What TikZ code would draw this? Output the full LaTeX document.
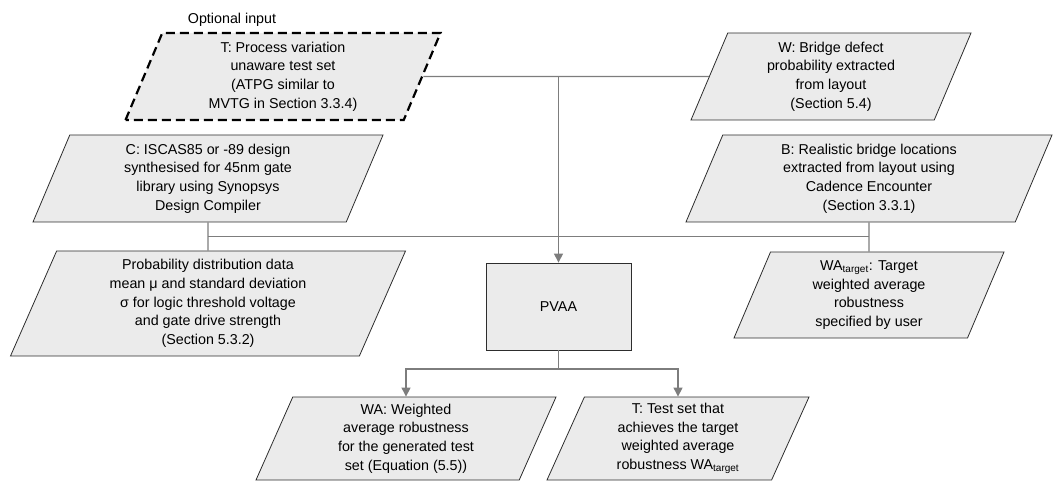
\documentclass[tikz,border=0pt]{standalone}
\usepackage{fontspec}
\setmainfont{Liberation Sans}
\usepackage{tikz}
\usetikzlibrary{arrows.meta,positioning,shapes.geometric}

\definecolor{boxfill}{RGB}{235,235,235}
\definecolor{linegray}{RGB}{125,125,125}
\definecolor{edgegray}{RGB}{45,45,45}

\tikzset{
  io/.style={trapezium, trapezium left angle=63.4, trapezium right angle=116.6,
    trapezium stretches body, draw=edgegray, fill=boxfill, line width=0.8pt,
    align=center, inner sep=2pt, minimum height=87pt},
  proc/.style={rectangle, draw=edgegray, fill=boxfill, line width=0.8pt,
    minimum width=145pt, minimum height=87pt},
  link/.style={draw=linegray, line width=1.2pt},
  arr/.style={link, -{Triangle[width=9pt,length=9pt]}}
}

\begin{document}
\begin{tikzpicture}[x=1pt, y=-1pt, font=\fontsize{14.3}{18.7}\selectfont]
\useasboundingbox (0,0) rectangle (1053,481);

% inputs
\node (opt) at (232,20) {Optional input};
\node[io, draw=black, line width=2.2pt, dash pattern=on 9pt off 5pt, minimum width=315pt] (Tin) at (283,76.5)
  {T: Process variation\\unaware test set\\(ATPG similar to\\MVTG in Section 3.3.4)};
\node[io, minimum width=280pt] (W) at (831,76.5)
  {W: Bridge defect\\probability extracted\\from layout\\(Section 5.4)};
\node[io, minimum width=350pt] (C) at (208,178.5)
  {C: ISCAS85 or -89 design\\synthesised for 45nm gate\\library using Synopsys\\Design Compiler};
\node[io, minimum width=366pt] (B) at (869,178.5)
  {B: Realistic bridge locations\\extracted from layout using\\Cadence Encounter\\(Section 3.3.1)};
\node[io, minimum height=105pt, minimum width=395pt] (P) at (208,303.5)
  {Probability distribution data\\mean μ and standard deviation\\σ for logic threshold voltage\\and gate drive strength\\(Section 5.3.2)};
\node[io, minimum height=86pt, minimum width=270pt] (WAt) at (869,295)
  {WA\textsubscript{target}: Target\\weighted average\\robustness\\specified by user};

% tool
\node[proc] (PVAA) at (558.5,306.5) {PVAA};

% outputs
\node[io, minimum height=83pt, minimum width=300pt] (WA) at (406,438.5)
  {WA: Weighted\\average robustness\\for the generated test\\set (Equation (5.5))};
\node[io, minimum height=83pt, minimum width=262pt] (Tout) at (678,438.5)
  {T: Test set that\\achieves the target\\weighted average\\robustness WA\textsubscript{target}};

\coordinate (jl) at (208,236.5);
\coordinate (jr) at (869,236.5);
\coordinate (split) at (558.5,369);

\draw[link] (Tin) -- (W);
\draw[arr] (PVAA |- Tin) -- (PVAA);
\draw[link] (C) -- (P);
\draw[link] (B) -- (WAt);
\draw[link] (jl) -- (jr);
\draw[link] (PVAA) -- (split);
\draw[arr] (split) -| (WA);
\draw[arr] (split) -| (Tout);
\end{tikzpicture}
\end{document}
